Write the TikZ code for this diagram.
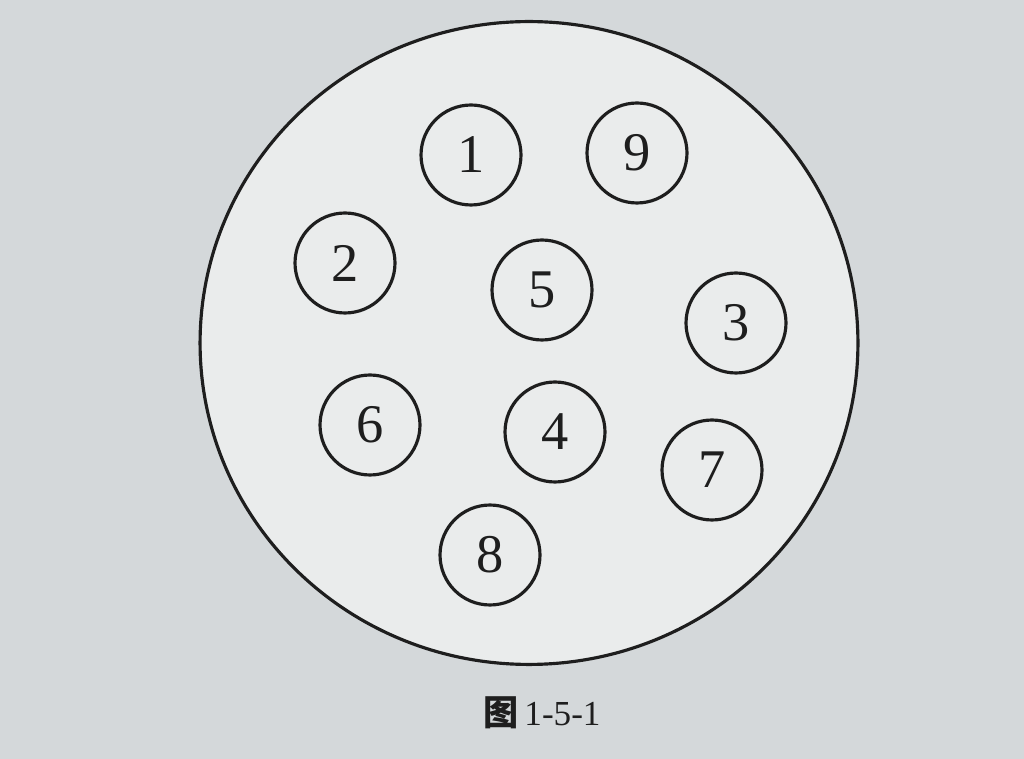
\documentclass[tikz,border=0pt]{standalone}
\usepackage{fontspec}
\usetikzlibrary{shapes.geometric}
\setmainfont{Liberation Serif}
\newfontfamily\cjk{Noto Sans CJK SC}
\definecolor{bgpaper}{RGB}{212,216,218}
\definecolor{innerpaper}{RGB}{234,236,236}
\definecolor{inkline}{RGB}{30,30,30}
\tikzset{
  pin/.style={draw=inkline, line width=1.8pt, circle, minimum size=2.0cm, inner sep=0pt,
              font=\fontsize{31}{31}\selectfont, text=inkline},
}
\begin{document}
\begin{tikzpicture}[x=0.02cm,y=-0.02cm]
\fill[bgpaper] (0,0) rectangle (1024,759);
\useasboundingbox (0,0) rectangle (1024,759);
\node[draw=inkline, line width=1.8pt, fill=innerpaper, ellipse, minimum width=13.16cm, minimum height=12.86cm, inner sep=0pt] (outer) at (529,343) {};
\node[pin] (p1) at (471,155) {1};
\node[pin] (p9) at (637,153) {9};
\node[pin] (p2) at (345,263) {2};
\node[pin] (p5) at (542,290) {5};
\node[pin] (p3) at (736,323) {3};
\node[pin] (p6) at (370,425) {6};
\node[pin] (p4) at (555,432) {4};
\node[pin] (p7) at (712,470) {7};
\node[pin] (p8) at (490,555) {8};
\node[font=\fontsize{20}{20}\selectfont, text=inkline] (cap) at (542,713) {{\cjk\bfseries 图}\,1-5-1};
\end{tikzpicture}
\end{document}
